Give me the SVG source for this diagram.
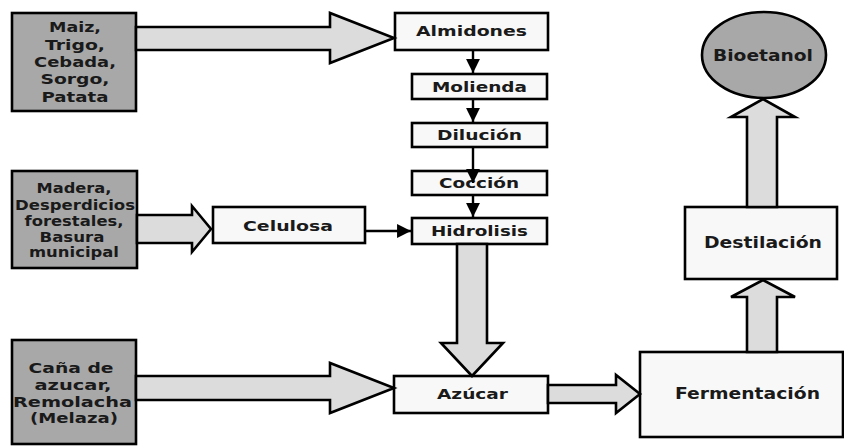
<svg xmlns="http://www.w3.org/2000/svg" width="844" height="446" viewBox="0 0 844 446">
<defs>
<style>
.src{fill:#a8a8a8;stroke:#000;stroke-width:2.6}
.box{fill:#f8f8f8;stroke:#000;stroke-width:2.6}
.big{fill:#dcdcdc;stroke:#000;stroke-width:2.6;stroke-linejoin:miter}
.thin{stroke:#000;stroke-width:2.4;fill:none}
text{font-family:"DejaVu Sans","Verdana",sans-serif;font-weight:bold;fill:#1a1a1a;text-anchor:middle}
.s{font-size:14px}
.m{font-size:14.5px}
.l{font-size:16px}
</style>
<marker id="ah" viewBox="0 0 10 10" refX="10" refY="5" markerWidth="5.8" markerHeight="5.8" orient="auto" markerUnits="strokeWidth">
<path d="M0,0 L10,5 L0,10 z" fill="#000"/>
</marker>
</defs>
<rect width="844" height="446" fill="#fff"/>

<g id="maiz">
<rect class="src" x="12" y="13" width="124" height="98"/>
<text class="s" x="75" y="32" textLength="52" lengthAdjust="spacingAndGlyphs">Maiz,</text>
<text class="s" x="75" y="50" textLength="60" lengthAdjust="spacingAndGlyphs">Trigo,</text>
<text class="s" x="75" y="67" textLength="82" lengthAdjust="spacingAndGlyphs">Cebada,</text>
<text class="s" x="75" y="84" textLength="69" lengthAdjust="spacingAndGlyphs">Sorgo,</text>
<text class="s" x="75" y="102" textLength="67" lengthAdjust="spacingAndGlyphs">Patata</text>
</g>

<g id="madera">
<rect class="src" x="12" y="171" width="125" height="97"/>
<text class="s" x="74" y="193" textLength="75" lengthAdjust="spacingAndGlyphs">Madera,</text>
<text class="s" x="75" y="210" textLength="120" lengthAdjust="spacingAndGlyphs">Desperdicios</text>
<text class="s" x="74" y="226" textLength="99" lengthAdjust="spacingAndGlyphs">forestales,</text>
<text class="s" x="72" y="242" textLength="65" lengthAdjust="spacingAndGlyphs">Basura</text>
<text class="s" x="74" y="257" textLength="90" lengthAdjust="spacingAndGlyphs">municipal</text>
</g>

<g id="cana">
<rect class="src" x="12" y="340" width="124" height="104"/>
<text class="s" x="71" y="373" textLength="85" lengthAdjust="spacingAndGlyphs">Caña de</text>
<text class="s" x="73" y="390" textLength="77" lengthAdjust="spacingAndGlyphs">azucar,</text>
<text class="s" x="72.5" y="407" textLength="119" lengthAdjust="spacingAndGlyphs">Remolacha</text>
<text class="s" x="74" y="423" textLength="88" lengthAdjust="spacingAndGlyphs">(Melaza)</text>
</g>

<g id="almidones">
<rect class="box" x="395" y="13" width="153" height="37"/>
<text class="m" x="471.5" y="36" textLength="111" lengthAdjust="spacingAndGlyphs">Almidones</text>
</g>
<g id="molienda">
<rect class="box" x="412" y="74" width="135" height="25"/>
<text class="m" x="479.5" y="92" textLength="95" lengthAdjust="spacingAndGlyphs">Molienda</text>
</g>
<g id="dilucion">
<rect class="box" x="412" y="123" width="135" height="24"/>
<text class="m" x="479.5" y="140" textLength="85" lengthAdjust="spacingAndGlyphs">Dilución</text>
</g>
<g id="coccion">
<rect class="box" x="412" y="171" width="135" height="24"/>
<text class="m" x="479" y="188" textLength="80" lengthAdjust="spacingAndGlyphs">Cocción</text>
</g>
<g id="hidrolisis">
<rect class="box" x="412" y="218" width="135" height="26"/>
<text class="m" x="479.5" y="236" textLength="97" lengthAdjust="spacingAndGlyphs">Hidrolisis</text>
</g>
<g id="celulosa">
<rect class="box" x="213" y="207" width="152" height="36"/>
<text class="m" x="288" y="231" textLength="90" lengthAdjust="spacingAndGlyphs">Celulosa</text>
</g>
<g id="azucar">
<rect class="box" x="394" y="376" width="154" height="37"/>
<text class="m" x="472.5" y="399" textLength="71" lengthAdjust="spacingAndGlyphs">Azúcar</text>
</g>
<g id="fermentacion">
<rect class="box" x="640" y="352" width="203" height="85"/>
<text class="l" x="747.5" y="399" textLength="145" lengthAdjust="spacingAndGlyphs">Fermentación</text>
</g>
<g id="destilacion">
<rect class="box" x="685" y="207" width="152" height="72"/>
<text class="l" x="763" y="248" textLength="118" lengthAdjust="spacingAndGlyphs">Destilación</text>
</g>
<g id="bioetanol">
<ellipse class="src" cx="764" cy="55" rx="62" ry="43"/>
<text class="l" x="763" y="61" textLength="100" lengthAdjust="spacingAndGlyphs">Bioetanol</text>
</g>

<g id="connectors">
<polygon class="big" points="136,27 330,27 330,13 394,38 330,63 330,50 136,50"/>
<polygon class="big" points="137,215 192,215 192,206 211,229 192,252 192,243 137,243"/>
<polygon class="big" points="457,244 487,244 487,343 503,343 472,376 441,343 457,343"/>
<polygon class="big" points="136,376 330,376 330,363 394,388 330,413 330,400 136,400"/>
<polygon class="big" points="548,385 616,385 616,375 640,394 616,413 616,403 548,403"/>
<polygon class="big" points="747,352 747,297 731,297 763,280 795,297 777,297 777,352"/>
<polygon class="big" points="747,207 747,117 731,117 763,99 795,117 777,117 777,207"/>
<line class="thin" x1="473" y1="50" x2="473" y2="73" marker-end="url(#ah)"/>
<line class="thin" x1="473" y1="99" x2="473" y2="122" marker-end="url(#ah)"/>
<line class="thin" x1="473" y1="147" x2="473" y2="183" marker-end="url(#ah)"/>
<line class="thin" x1="473" y1="195" x2="473" y2="217" marker-end="url(#ah)"/>
<line class="thin" x1="365" y1="231" x2="411" y2="231" marker-end="url(#ah)"/>
</g>
</svg>
